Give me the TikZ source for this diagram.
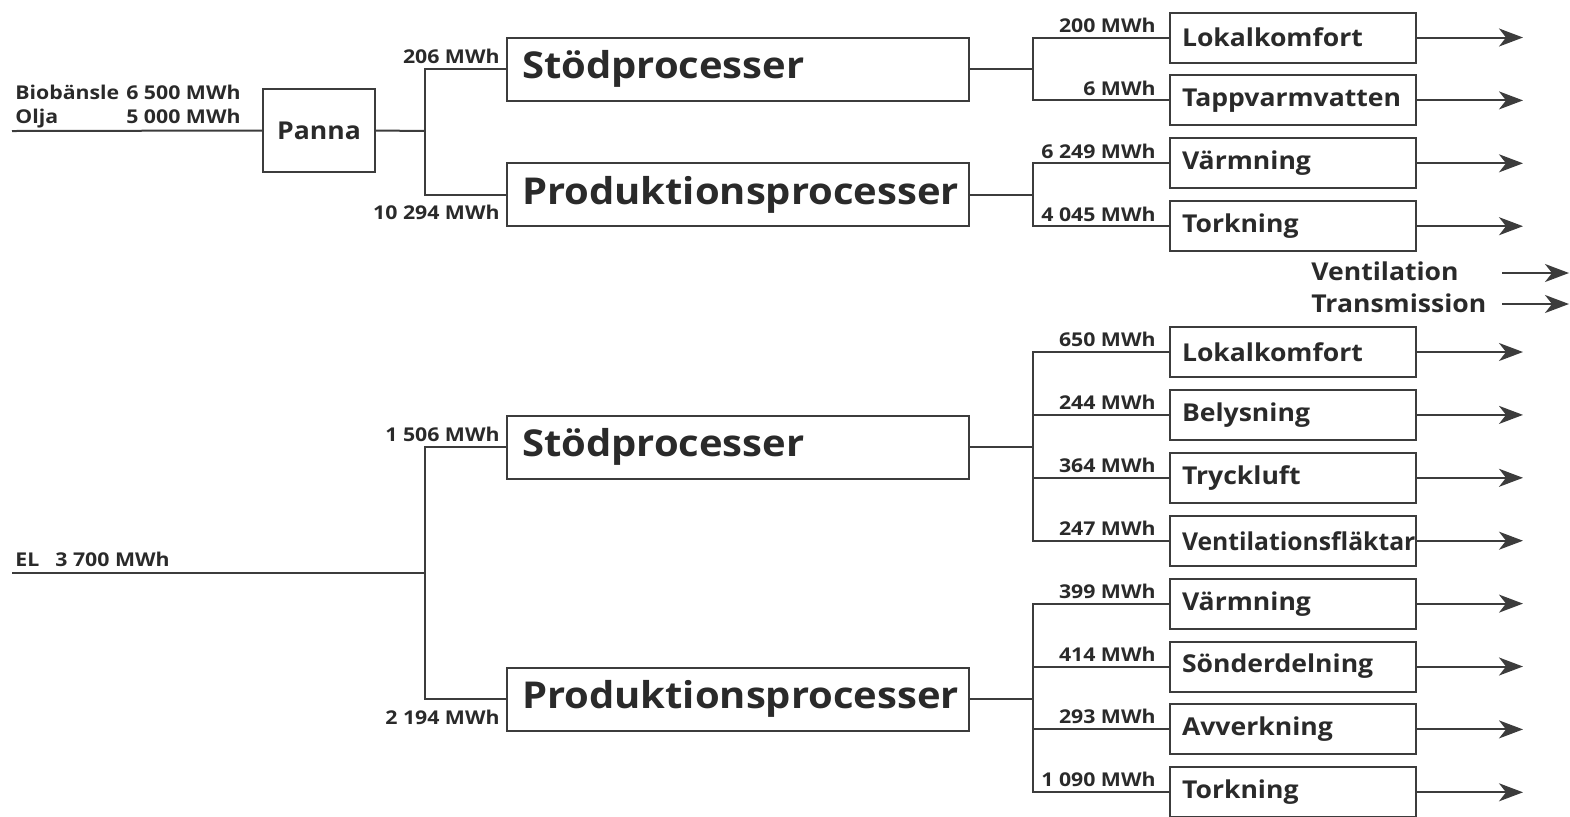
\documentclass[tikz,border=0pt]{standalone}
\usepackage{fontspec}
\usepackage{graphicx}
\setmainfont{Open Sans}[FakeStretch=1.08]
\newfontfamily\labfont{Open Sans}[FakeStretch=1.12]
\usetikzlibrary{arrows.meta}
\definecolor{lc}{HTML}{3C3C3C}
\definecolor{tc}{HTML}{2A2A2A}
\begin{document}
\begin{tikzpicture}[x=0.5pt,y=-0.5pt,
  ln/.style={draw=lc,line width=1pt},
  arr/.style={ln,-{Stealth[length=12pt,width=9pt,inset=3.5pt]}},
  bigbox/.style={ln,anchor=west,minimum width=231pt,minimum height=31.5pt,inner xsep=7.5pt,text width=216pt,align=left,font=\bfseries\fontsize{18.5}{20}\selectfont,text=tc},
  sbox/.style={ln,anchor=west,minimum width=123pt,minimum height=25pt,inner xsep=6pt,text width=111pt,align=left,font=\bfseries\fontsize{12.3}{14}\selectfont,text=tc},
  lab/.style={font=\labfont\bfseries\fontsize{9.5}{10}\selectfont,text=tc,inner sep=0pt},
  mlab/.style={font=\bfseries\fontsize{12.3}{14}\selectfont,text=tc,inner sep=0pt}
]
\useasboundingbox (0,0) rectangle (1570,816);

% ---------- top (heat) ----------
\node[ln,minimum width=56pt,minimum height=41.5pt,font=\bfseries\fontsize{12.3}{14}\selectfont,text=tc] (panna) at (319,130.5) {Panna};
\node[bigbox] (S1) at (506,69) {Stödprocesser};
\node[bigbox] (P1) at (506,194.5) {Produktionsprocesser};

\node[sbox] (r0) at (1169,37.5) {Lokalkomfort};
\node[sbox] (r1) at (1169,100.4) {Tappvarmvatten};
\node[sbox] (r2) at (1169,163.3) {Värmning};
\node[sbox] (r3) at (1169,226.2) {Torkning};

\coordinate (in1) at (12,131);
\coordinate (j1) at (425,131);
\coordinate (j2) at (1033,69);
\coordinate (j3) at (1033,194.5);

\draw[ln] (in1) -- (panna.west);
\draw[ln] (panna.east) -- (j1);
\draw[ln] (S1.west) -| (j1) |- (P1.west);
\draw[ln] (S1.east) -- (j2);
\draw[ln] (r0.west) -| (j2) |- (r1.west);
\draw[ln] (P1.east) -- (j3);
\draw[ln] (r2.west) -| (j3) |- (r3.west);

\node[lab,anchor=base west] (bio) at (15,99) {Biobänsle};
\node[lab,anchor=base east] (bioval) at (241,99) {6 500 MWh};
\node[lab,anchor=base west] (olja) at (15,123) {Olja};
\node[lab,anchor=base east] (oljaval) at (241,123) {5 000 MWh};
\node[lab,anchor=base east] (l206) at (500,63) {206 MWh};
\node[lab,anchor=base east] (l10294) at (500,219) {10 294 MWh};
\node[lab,anchor=base east] (l200) at (1156,32) {200 MWh};
\node[lab,anchor=base east] (l6) at (1156,95) {6 MWh};
\node[lab,anchor=base east] (l6249) at (1156,158) {6 249 MWh};
\node[lab,anchor=base east] (l4045) at (1156,221) {4 045 MWh};

% ---------- losses ----------
\node[mlab,anchor=base west] (vent) at (1311,280) {Ventilation};
\node[mlab,anchor=base west] (trans) at (1311,312) {Transmission};
\coordinate (va) at (1502,273);
\coordinate (vb) at (1569,273);
\coordinate (ta) at (1502,304);
\coordinate (tb) at (1569,304);
\draw[arr] (va) -- (vb);
\draw[arr] (ta) -- (tb);

% ---------- bottom (electricity) ----------
\node[bigbox] (S2) at (506,447) {Stödprocesser};
\node[bigbox] (P2) at (506,699) {Produktionsprocesser};

\node[sbox] (r5) at (1169,352.0) {Lokalkomfort};
\node[sbox] (r6) at (1169,414.9) {Belysning};
\node[sbox] (r7) at (1169,477.8) {Tryckluft};
\node[sbox] (r8) at (1169,540.7) {\scalebox{0.93}[1]{Ventilationsfläktar}};
\node[sbox] (r9) at (1169,603.6) {Värmning};
\node[sbox] (r10) at (1169,666.5) {Sönderdelning};
\node[sbox] (r11) at (1169,729.4) {Avverkning};
\node[sbox] (r12) at (1169,792.3) {Torkning};

\coordinate (in2) at (12,573);
\coordinate (j6) at (425,573);
\coordinate (j4) at (1033,447);
\coordinate (j5) at (1033,699);

\draw[ln] (in2) -- (j6);
\draw[ln] (S2.west) -| (j6) |- (P2.west);
\draw[ln] (S2.east) -- (j4);
\draw[ln] (r5.west) -| (j4) |- (r8.west);
\draw[ln] (r6.west) -- (r6.west -| j4);
\draw[ln] (r7.west) -- (r7.west -| j4);
\draw[ln] (P2.east) -- (j5);
\draw[ln] (r9.west) -| (j5) |- (r12.west);
\draw[ln] (r10.west) -- (r10.west -| j5);
\draw[ln] (r11.west) -- (r11.west -| j5);

\node[lab,anchor=base west] (el) at (15,566) {EL};
\node[lab,anchor=base west] (elval) at (55,566) {3 700 MWh};
\node[lab,anchor=base east] (l1506) at (500,441) {1 506 MWh};
\node[lab,anchor=base east] (l2194) at (500,724) {2 194 MWh};
\node[lab,anchor=base east] (l650) at (1156,346.5) {650 MWh};
\node[lab,anchor=base east] (l244) at (1156,409.4) {244 MWh};
\node[lab,anchor=base east] (l364) at (1156,472.3) {364 MWh};
\node[lab,anchor=base east] (l247) at (1156,535.2) {247 MWh};
\node[lab,anchor=base east] (l399) at (1156,598.1) {399 MWh};
\node[lab,anchor=base east] (l414) at (1156,661) {414 MWh};
\node[lab,anchor=base east] (l293) at (1156,723.9) {293 MWh};
\node[lab,anchor=base east] (l1090) at (1156,786.8) {1 090 MWh};

% ---------- output arrows ----------
\foreach \r in {r0,r1,r2,r3,r5,r6,r7,r8,r9,r10,r11,r12}{
  \draw[arr] (\r.east) -- ++(106,0);
}
\end{tikzpicture}
\end{document}
